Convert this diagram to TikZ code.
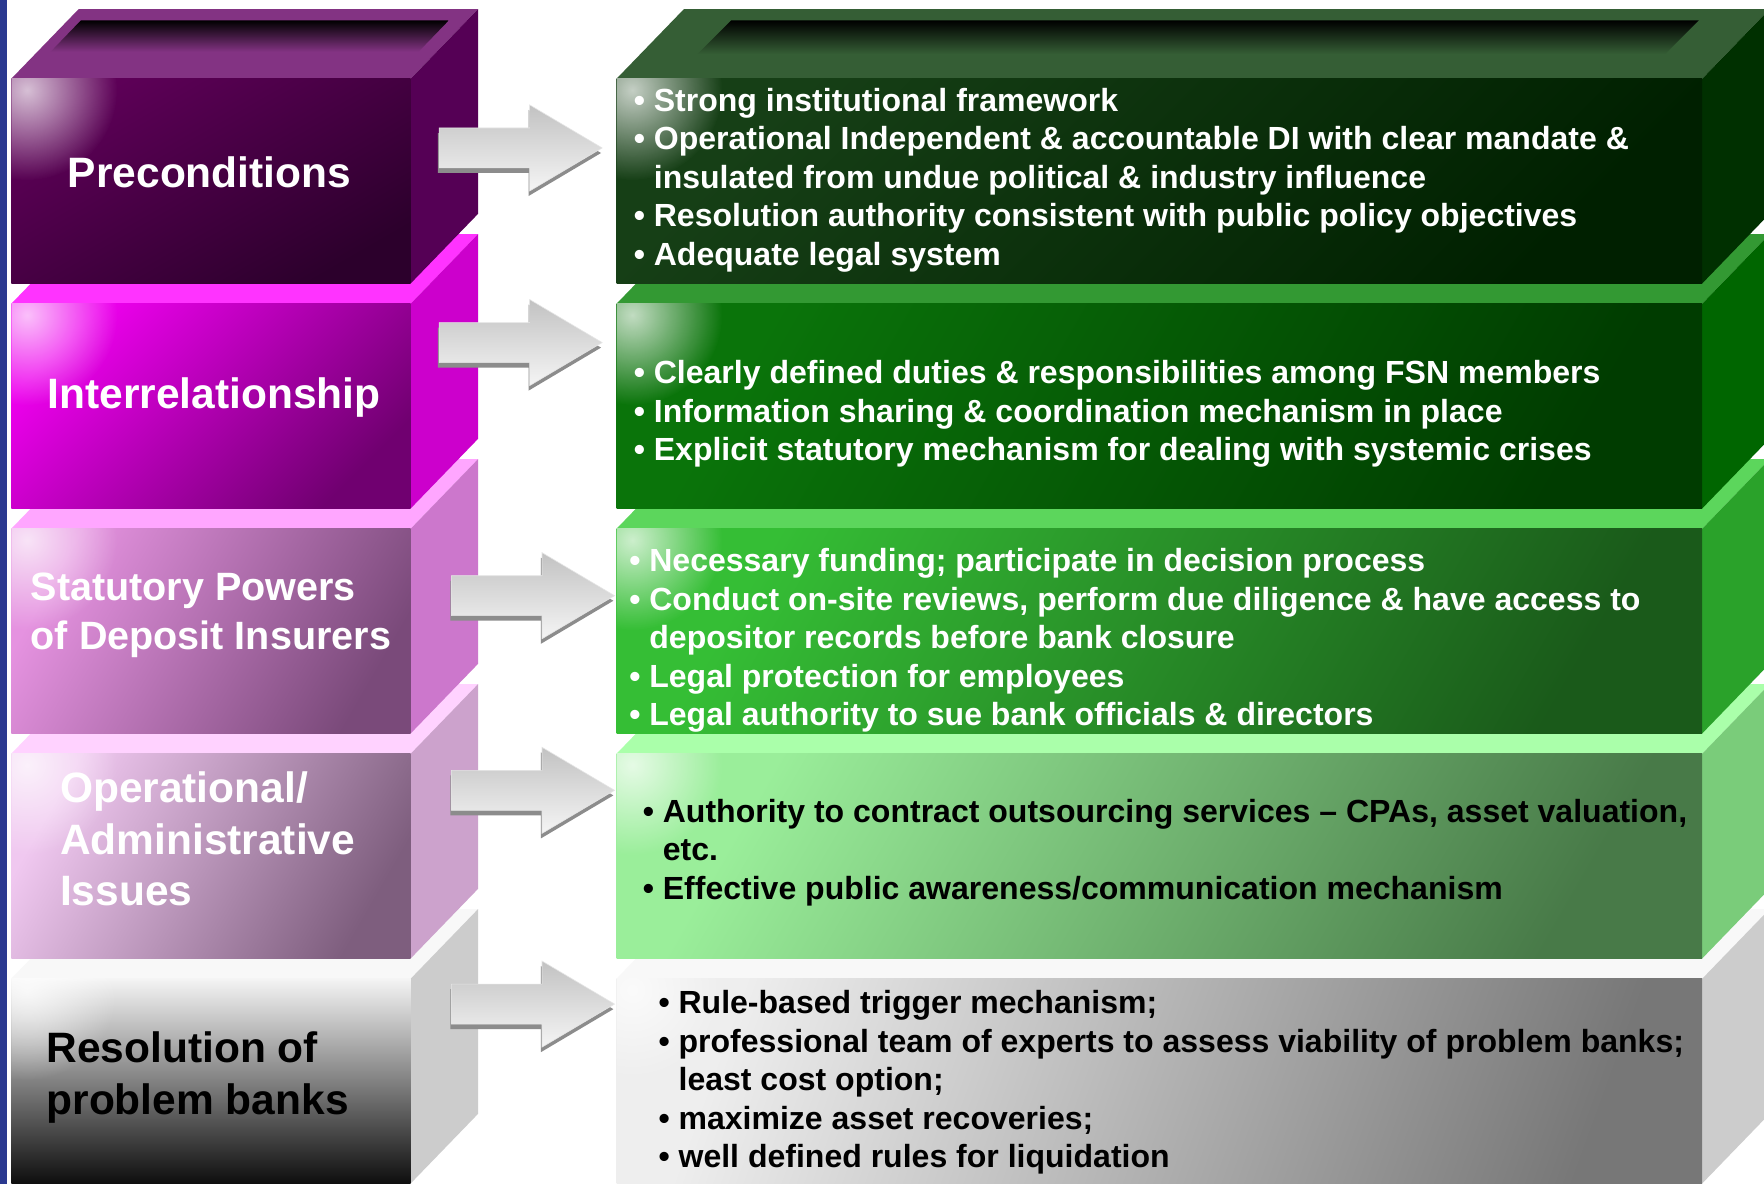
\documentclass[tikz,border=0pt]{standalone}
\usepackage{fontspec}
\setmainfont{Liberation Sans}
\usetikzlibrary{shapes.arrows,shadows,fadings}

\tikzfading[name=glarefade, inner color=transparent!25, outer color=transparent!100]

\definecolor{sidebar}{HTML}{2A3990}
\definecolor{pretop}{HTML}{833383}
\definecolor{prertop}{HTML}{355E35}

\begin{document}
\begin{tikzpicture}[
  x=0.02cm, y=-0.02cm,
  title/.style = {anchor=north west, inner sep=0pt, align=left, font=\bfseries\fontsize{21.5}{26}\selectfont},
  points/.style = {anchor=north west, inner sep=0pt, align=left, font=\bfseries\fontsize{16.2}{19.5}\selectfont},
  bigarrow/.style = {single arrow, anchor=tail, inner xsep=0pt, inner ysep=0.35cm,
    minimum height=2.9cm,
    single arrow head extend=0.41cm, single arrow tip angle=61.4,
    top color=black!24, bottom color=black!4, draw=black!10, line width=0.3pt,
    general shadow={fill=black!45, shadow xshift=-0.02cm, shadow yshift=-0.09cm}}
]

\useasboundingbox (0,0) rectangle (1568,1052);
\clip (0,0) rectangle (1568,1052);
\fill[white] (0,0) rectangle (1568,1052);
\fill[sidebar] (0,0) rectangle (6,1052);

% boxes, bottom row first
\foreach \y/\la/\lb/\lt/\ls/\lang/\ra/\rb/\rt/\rs/\rang in {
  870/F4F4F4/0E0E0E/F8F8F8/CCCCCC/0/EEEEEE/777777/F8F8F8/CCCCCC/70,
  670/F0C8F0/7E5E7E/FFD2FF/CCA2CC/60/9AEE9A/487A48/AAFFAA/7ACC7A/60,
  470/E592E0/7A4A7A/FFA6FF/CC77CC/60/35BE35/1A5A1A/5CD65C/2AA22A/60,
  270/EE00EE/700070/FF33FF/CC00CC/45/0A740A/003C00/339933/006600/60,
  70/5E0058/2C002C/833383/550055/30/163F16/002000/355E35/003000/45}{
  \definecolor{leftA}{HTML}{\la}
  \definecolor{leftB}{HTML}{\lb}
  \definecolor{leftTop}{HTML}{\lt}
  \definecolor{leftSide}{HTML}{\ls}
  \definecolor{rightA}{HTML}{\ra}
  \definecolor{rightB}{HTML}{\rb}
  \definecolor{rightTop}{HTML}{\rt}
  \definecolor{rightSide}{HTML}{\rs}
  % left block
  \fill[leftTop] (10,\y) -- (365,\y) -- (425,\y-62) -- (70,\y-62) -- cycle;
  \fill[leftSide] (365,\y) -- (425,\y-62) -- (425,\y+120) -- (365,\y+182) -- cycle;
  \shade[top color=leftA, bottom color=leftB, shading angle=\lang] (10,\y) rectangle (365,\y+182);
  \begin{scope}
    \clip (10,\y) rectangle (365,\y+182);
    \fill[white, path fading=glarefade] (24,\y+10) circle (80);
  \end{scope}
  % right block
  \fill[rightTop] (548,\y) -- (1513,\y) -- (1573,\y-62) -- (608,\y-62) -- cycle;
  \fill[rightSide] (1513,\y) -- (1573,\y-62) -- (1573,\y+120) -- (1513,\y+182) -- cycle;
  \shade[top color=rightA, bottom color=rightB, shading angle=\rang] (548,\y) rectangle (1513,\y+182);
  \begin{scope}
    \clip (548,\y) rectangle (1513,\y+182);
    \fill[white, path fading=glarefade] (562,\y+10) circle (80);
  \end{scope}
}

% dark opening on the top lids
\shade[top color=black, bottom color=pretop] (72,18) -- (399,18) -- (372,46) -- (45,46) -- cycle;
\shade[top color=black, bottom color=prertop] (650,18) -- (1510,18) -- (1480,48) -- (620,48) -- cycle;

\node[title, text=white] (pre) at (60,139) {Preconditions};
\node[title, text=white] (inter) at (42,335) {Interrelationship};
\node[title, text=white, font=\bfseries\fontsize{20}{24.5}\selectfont] (stat) at (27,509) {Statutory Powers\\of Deposit Insurers};
\node[title, text=white] (oper) at (53,686) {Operational/\\Administrative\\Issues};
\node[title] (resol) at (41,917) {Resolution of\\problem banks};

\node[points, text=white] (preList) at (563,78) {• Strong institutional framework\\
  • Operational Independent \& accountable DI with clear mandate \&\\
  \phantom{• }insulated from undue political \& industry influence\\
  • Resolution authority consistent with public policy objectives\\
  • Adequate legal system};
\node[points, text=white] (interList) at (563,320) {• Clearly defined duties \& responsibilities among FSN members\\
  • Information sharing \& coordination mechanism in place\\
  • Explicit statutory mechanism for dealing with systemic crises};
\node[points, text=white] (statList) at (559,487) {• Necessary funding; participate in decision process\\
  • Conduct on-site reviews, perform due diligence \& have access to\\
  \phantom{• }depositor records before bank closure\\
  • Legal protection for employees\\
  • Legal authority to sue bank officials \& directors};
\node[points] (operList) at (571,710) {• Authority to contract outsourcing services – CPAs, asset valuation,\\
  \phantom{• }etc.\\
  • Effective public awareness/communication mechanism};
\node[points] (resolList) at (585,880) {• Rule-based trigger mechanism;\\
  • professional team of experts to assess viability of problem banks;\\
  \phantom{• }least cost option;\\
  • maximize asset recoveries;\\
  • well defined rules for liquidation};

% arrows between the blocks
\node[bigarrow] (arrPre) at (390,131.5) {};
\node[bigarrow] (arrInter) at (390,304.5) {};
\node[bigarrow] (arrStat) at (401,529.5) {};
\node[bigarrow] (arrOper) at (401,702.5) {};
\node[bigarrow] (arrResol) at (401,892.5) {};

\end{tikzpicture}
\end{document}
